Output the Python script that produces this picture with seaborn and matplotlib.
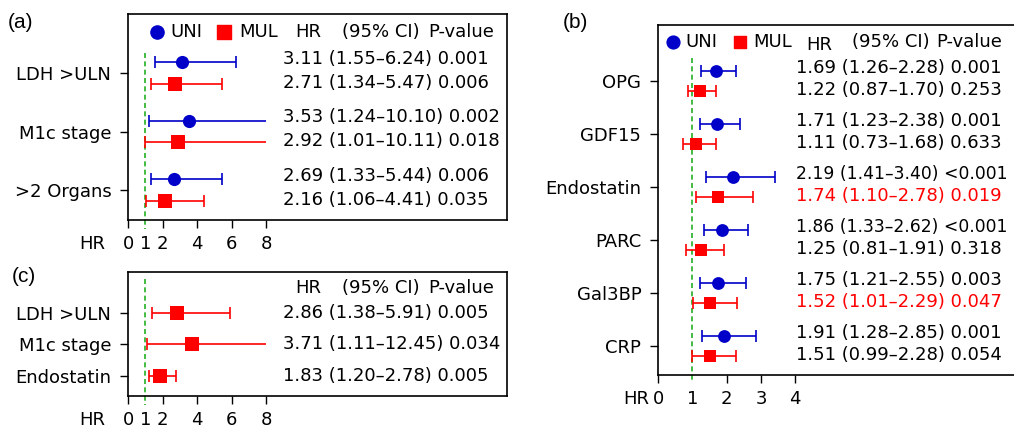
import matplotlib
matplotlib.use("Agg")
import matplotlib.pyplot as plt
import seaborn as sns
import numpy as np

sns.set_style("white")
plt.rcParams['font.family'] = ['DejaVu Sans']
for k in ["text.color", "axes.labelcolor", "xtick.color", "ytick.color"]:
    plt.rcParams[k] = "black"

# ---------------- data ----------------
vars_a = ["LDH >ULN", "M1c stage", ">2 Organs"]
uni_hr_a = [3.11, 3.53, 2.69]
uni_lo_a = [1.55, 1.24, 1.33]
uni_hi_a = [6.24, 10.10, 5.44]
uni_p_a = ["0.001", "0.002", "0.006"]
mul_hr_a = [2.71, 2.92, 2.16]
mul_lo_a = [1.34, 1.01, 1.06]
mul_hi_a = [5.47, 10.11, 4.41]
mul_p_a = ["0.006", "0.018", "0.035"]

vars_b = ["OPG", "GDF15", "Endostatin", "PARC", "Gal3BP", "CRP"]
uni_hr_b = [1.69, 1.71, 2.19, 1.86, 1.75, 1.91]
uni_lo_b = [1.26, 1.23, 1.41, 1.33, 1.21, 1.28]
uni_hi_b = [2.28, 2.38, 3.40, 2.62, 2.55, 2.85]
uni_p_b = ["0.001", "0.001", "<0.001", "<0.001", "0.003", "0.001"]
mul_hr_b = [1.22, 1.11, 1.74, 1.25, 1.52, 1.51]
mul_lo_b = [0.87, 0.73, 1.10, 0.81, 1.01, 0.99]
mul_hi_b = [1.70, 1.68, 2.78, 1.91, 2.29, 2.28]
mul_p_b = ["0.253", "0.633", "0.019", "0.318", "0.047", "0.054"]
mul_sig_b = [False, False, True, False, True, False]

vars_c = ["LDH >ULN", "M1c stage", "Endostatin"]
mul_hr_c = [2.86, 3.71, 1.83]
mul_lo_c = [1.38, 1.11, 1.20]
mul_hi_c = [5.91, 12.45, 2.78]
mul_p_c = ["0.005", "0.034", "0.005"]

ticks_ac = [0, 1, 2, 4, 6, 8]
ticks_b = [0, 1, 2, 3, 4]

BLUE = "#0000C8"
RED = "#FF0000"
GREEN = "#22B022"
FS = 13

W, H = 1014, 433
fig = plt.figure(figsize=(W / 100, H / 100), dpi=100)


def px_axes(left, top, right, bottom):
    return fig.add_axes([left / W, 1 - bottom / H, (right - left) / W, (bottom - top) / H])


def fmt(hr, lo, hi, p):
    return f"{hr:.2f} ({lo:.2f}\u2013{hi:.2f}) {p}"


def draw_ci(ax, hr, lo, hi, ys, color, marker, s, xmax, capsize):
    for h, l, u, y in zip(hr, lo, hi, ys):
        uu = min(u, xmax)
        ax.hlines(y, l, uu, color=color, lw=1.2, zorder=2)
        caps = [l] if u > xmax else [l, u]
        ax.plot(caps, [y] * len(caps), ls="none", marker="|", ms=capsize,
                mew=1.2, color=color, zorder=2)
    sns.scatterplot(x=hr, y=ys, marker=marker, color=color, s=s,
                    edgecolor=color, linewidth=0, ax=ax, zorder=3, legend=False)


def style_axes(ax, xlim, ylim, ticks, labels, yvals, hr_x):
    ax.set_xlim(*xlim)
    ax.set_ylim(*ylim)
    ax.set_xticks(ticks)
    ax.set_xticklabels([str(t) for t in ticks], fontsize=FS)
    ax.set_yticks(yvals)
    ax.set_yticklabels(labels, fontsize=FS)
    ax.tick_params(axis="both", direction="out", length=6, width=1.0,
                   color="black", labelcolor="black", left=True, bottom=True)
    ax.tick_params(axis="x", pad=5)
    ax.tick_params(axis="y", pad=6)
    for sp in ax.spines.values():
        sp.set_visible(True)
        sp.set_color("black")
        sp.set_linewidth(1.2)
    idx = ticks.index(1)
    ax.xaxis.get_major_ticks()[idx].tick1line.set_visible(False)
    ax.annotate("HR", xy=(hr_x, 0), xycoords=ax.get_xaxis_transform(),
                xytext=(0, -11), textcoords="offset points", ha="right",
                va="top", fontsize=FS, annotation_clip=False)
    ax.set_xlabel("")
    ax.set_ylabel("")


# ---------------- panel (a) ----------------
axa = px_axes(128, 14, 507, 220)
ya = np.arange(len(vars_a))
off = 0.18
xmax_a = 8
draw_ci(axa, uni_hr_a, uni_lo_a, uni_hi_a, ya - off, BLUE, "o", 90, xmax_a, 8.5)
draw_ci(axa, mul_hr_a, mul_lo_a, mul_hi_a, ya + off, RED, "s", 95, xmax_a, 8.5)
axa.vlines(1, -0.34, 2.67, colors=GREEN, linestyles=(0, (3, 2)), lw=1.2, zorder=1, clip_on=False)
style_axes(axa, (0, 21.97), (2.513, -1.009), ticks_ac, vars_a, ya, -1.3)
for i in range(len(vars_a)):
    axa.text(9.0, ya[i] - 0.24, fmt(uni_hr_a[i], uni_lo_a[i], uni_hi_a[i], uni_p_a[i]),
             fontsize=FS, va="center", ha="left")
    axa.text(9.0, ya[i] + 0.17, fmt(mul_hr_a[i], mul_lo_a[i], mul_hi_a[i], mul_p_a[i]),
             fontsize=FS, va="center", ha="left")
hy = -0.70
axa.scatter([1.68], [hy], marker="o", s=90, color=BLUE, zorder=3)
axa.text(2.45, hy, "UNI", fontsize=FS, va="center")
axa.scatter([5.57], [hy], marker="s", s=90, color=RED, zorder=3)
axa.text(6.45, hy, "MUL", fontsize=FS, va="center")
axa.text(9.68, hy, "HR", fontsize=FS, va="center")
axa.text(12.4, hy, "(95% CI)", fontsize=FS, va="center")
axa.text(17.4, hy, "P-value", fontsize=FS, va="center")

# ---------------- panel (c) ----------------
axc = px_axes(128, 272, 507, 396)
yc = np.arange(len(vars_c))
draw_ci(axc, mul_hr_c, mul_lo_c, mul_hi_c, yc, RED, "s", 110, 8, 8.5)
axc.vlines(1, -1.08, 2.92, colors=GREEN, linestyles=(0, (3, 2)), lw=1.2, zorder=1, clip_on=False)
style_axes(axc, (0, 21.97), (2.635, -1.30), ticks_ac, vars_c, yc, -1.3)
for i in range(len(vars_c)):
    axc.text(9.0, yc[i], fmt(mul_hr_c[i], mul_lo_c[i], mul_hi_c[i], mul_p_c[i]),
             fontsize=FS, va="center", ha="left")
hy = -0.79
axc.text(9.68, hy, "HR", fontsize=FS, va="center")
axc.text(12.4, hy, "(95% CI)", fontsize=FS, va="center")
axc.text(17.4, hy, "P-value", fontsize=FS, va="center")

# ---------------- panel (b) ----------------
axb = px_axes(658, 25, 1018, 375)
yb = np.arange(len(vars_b))
offb = 0.19
draw_ci(axb, uni_hr_b, uni_lo_b, uni_hi_b, yb - offb, BLUE, "o", 85, 99, 8)
draw_ci(axb, mul_hr_b, mul_lo_b, mul_hi_b, yb + offb, RED, "s", 80, 99, 8)
axb.vlines(1, -0.43, 5.70, colors=GREEN, linestyles=(0, (3, 2)), lw=1.2, zorder=1, clip_on=False)
style_axes(axb, (0, 10.49), (5.547, -1.057), ticks_b, vars_b, yb, -0.25)
for i in range(len(vars_b)):
    fs_u = 12.3 if uni_p_b[i].startswith("<") else FS
    axb.text(4.03, yb[i] - 0.245, fmt(uni_hr_b[i], uni_lo_b[i], uni_hi_b[i], uni_p_b[i]),
             fontsize=fs_u, va="center", ha="left")
    axb.text(4.03, yb[i] + 0.17, fmt(mul_hr_b[i], mul_lo_b[i], mul_hi_b[i], mul_p_b[i]),
             fontsize=FS, va="center", ha="left",
             color=RED if mul_sig_b[i] else "black")
hy = -0.736
axb.scatter([0.435], [hy], marker="o", s=85, color=BLUE, zorder=3)
axb.text(0.80, hy, "UNI", fontsize=FS, va="center")
axb.scatter([2.38], [hy], marker="s", s=80, color=RED, zorder=3)
axb.text(2.78, hy, "MUL", fontsize=FS, va="center")
axb.text(4.32, hy + 0.05, "HR", fontsize=FS, va="center")
axb.text(5.65, hy, "(95% CI)", fontsize=FS, va="center")
axb.text(8.12, hy, "P-value", fontsize=FS, va="center")

# panel labels
for lab, x, y in [("(a)", 8, 23), ("(b)", 563, 23), ("(c)", 12, 276)]:
    fig.text(x / W, 1 - y / H, lab, fontsize=15, family="Liberation Sans",
             ha="left", va="center", color="black")

fig.savefig("out.png", dpi=100)
